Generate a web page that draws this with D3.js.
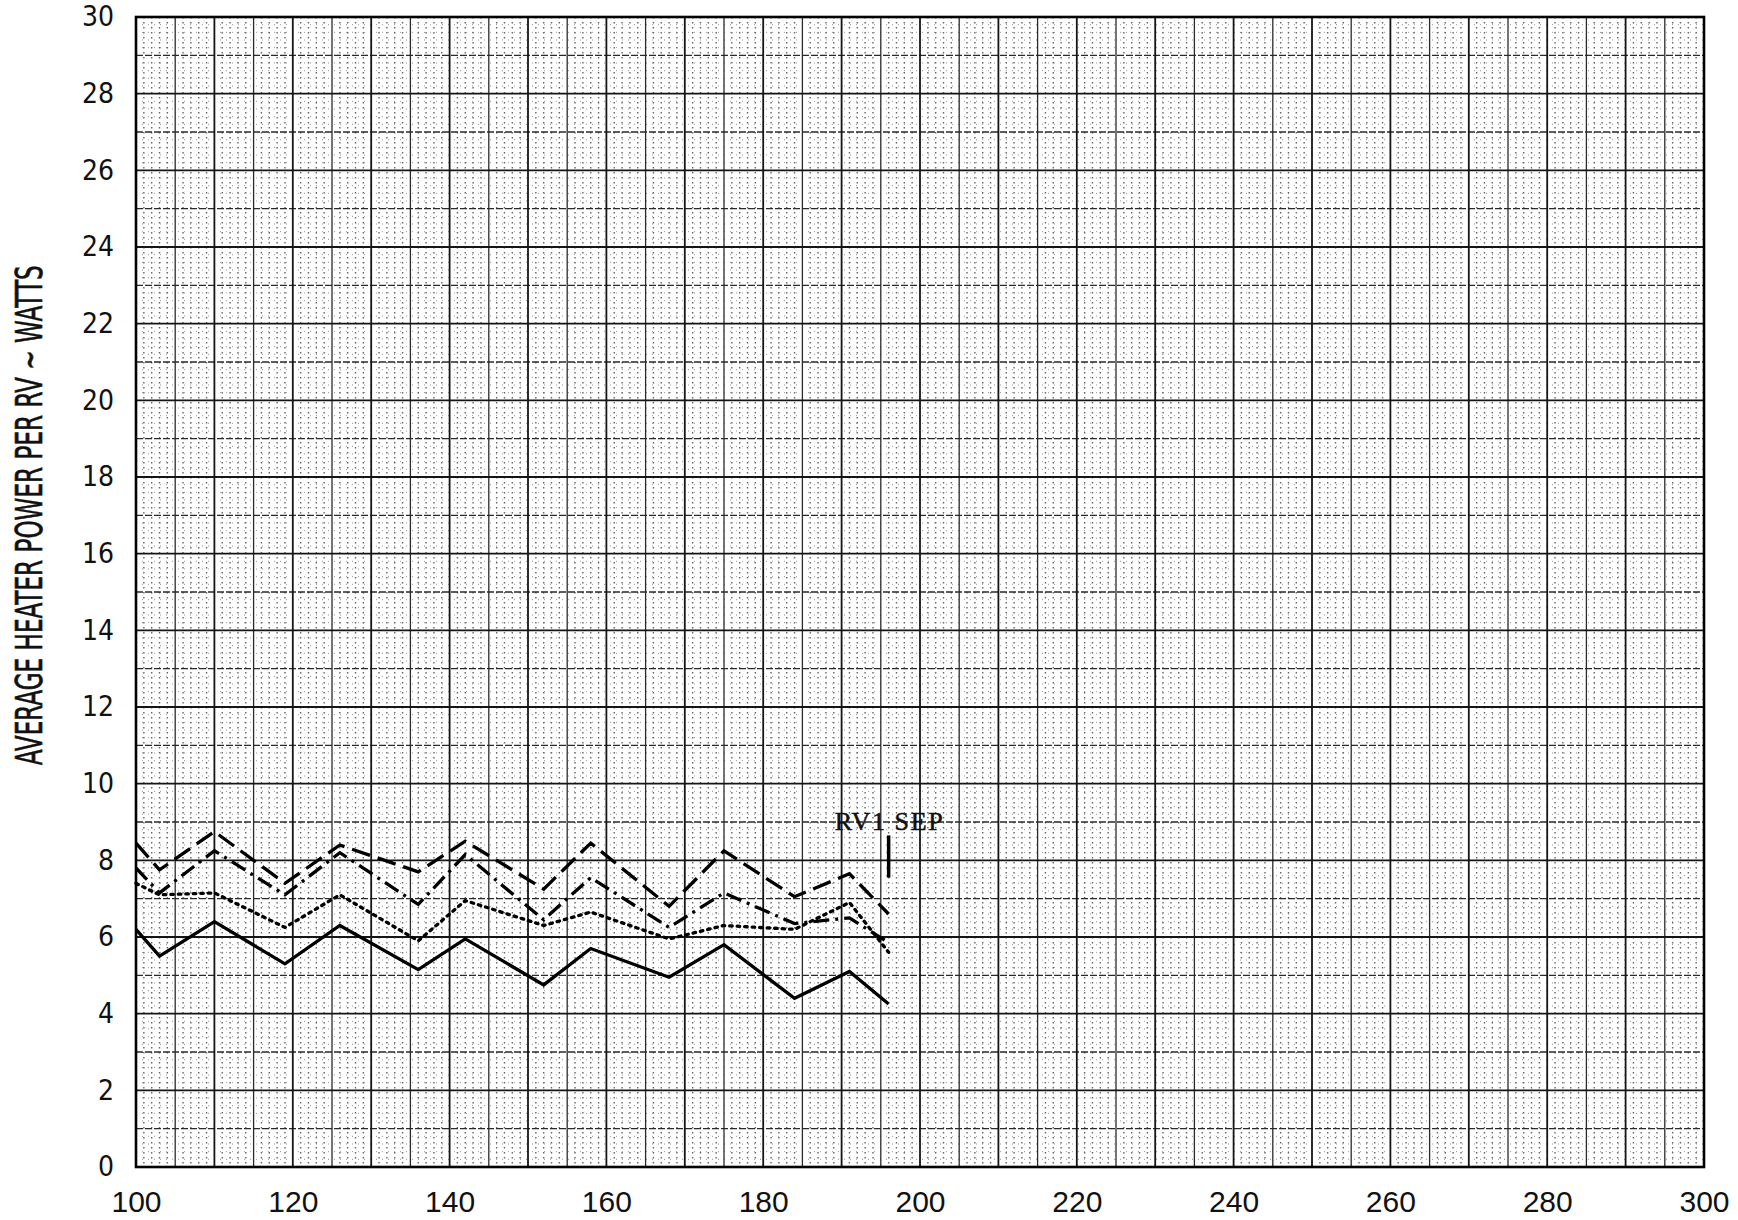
<!DOCTYPE html>
<html>
<head>
<meta charset="utf-8">
<script src="https://cdn.jsdelivr.net/npm/d3@7"></script>
<style>
  body { margin: 0; background: #fff; }
</style>
</head>
<body>
<svg id="chart"></svg>
<script>
// hours on the x axis, watts on the y axis
var hours    = [100, 103, 110, 119, 126, 136, 142, 152, 158, 168, 175, 184, 191, 196];
var solidW   = [6.2, 5.5, 6.4, 5.3, 6.3, 5.15, 5.95, 4.75, 5.7, 4.95, 5.8, 4.4, 5.1, 4.25];
var dottedW  = [7.4, 7.1, 7.15, 6.25, 7.1, 5.9, 6.95, 6.3, 6.65, 5.95, 6.3, 6.2, 6.9, 5.6];
var dashDotW = [7.8, 7.15, 8.25, 7.1, 8.2, 6.85, 8.15, 6.45, 7.55, 6.25, 7.15, 6.35, 6.5, 5.85];
var dashedW  = [8.45, 7.75, 8.75, 7.4, 8.4, 7.7, 8.5, 7.25, 8.45, 6.8, 8.25, 7.05, 7.65, 6.6];

var xTicks = [100, 120, 140, 160, 180, 200, 220, 240, 260, 280, 300];
var yTicks = [0, 2, 4, 6, 8, 10, 12, 14, 16, 18, 20, 22, 24, 26, 28, 30];

// separation marker
var sepLabel = "RV1 SEP";
var sepHour = 196;
var sepRange = [7.55, 8.65];
var sepLabelY = 8.78;

var yTitle = "AVERAGE HEATER POWER PER RV ~ WATTS";

function main()
{
    var W = 1738, H = 1220;
    var margin = { top: 17, left: 136, right: 34, bottom: 53 };
    var width = W - margin.left - margin.right,
        height = H - margin.top - margin.bottom;

    var svg = d3.select("#chart")
        .attr("width", W)
        .attr("height", H);

    svg.append("rect").attr("width", W).attr("height", H).attr("fill", "#fff");

    var g = svg.append("g")
        .attr("transform", "translate(" + margin.left + "," + margin.top + ")");

    var x = d3.scaleLinear().domain([100, 300]).range([0, width]);
    var y = d3.scaleLinear().domain([0, 30]).range([height, 0]);

    // graph paper: minor dots, medium and heavy rules
    var xs = d3.range(100, 301, 1);
    var ys = d3.range(0, 151, 1).map(function(d) { return d / 5; });

    var grid = g.append("g").attr("class", "grid");

    grid.selectAll("line.minorx")
        .data(xs.filter(function(d) { return d % 5 != 0; }))
        .enter().append("line")
        .attr("x1", function(d) { return x(d); })
        .attr("x2", function(d) { return x(d); })
        .attr("y1", 0).attr("y2", height)
        .attr("stroke", "#333")
        .attr("stroke-width", 1.4)
        .attr("stroke-dasharray", "1.5,3.5")
        .attr("opacity", 0.75);

    grid.selectAll("line.minory")
        .data(ys.filter(function(d, i) { return i % 5 != 0; }))
        .enter().append("line")
        .attr("x1", 0).attr("x2", width)
        .attr("y1", function(d) { return y(d); })
        .attr("y2", function(d) { return y(d); })
        .attr("stroke", "#555")
        .attr("stroke-width", 1)
        .attr("stroke-dasharray", "1,5")
        .attr("opacity", 0.6);

    grid.selectAll("line.midx")
        .data(xs.filter(function(d) { return d % 5 == 0 && d % 10 != 0; }))
        .enter().append("line")
        .attr("x1", function(d) { return x(d); })
        .attr("x2", function(d) { return x(d); })
        .attr("y1", 0).attr("y2", height)
        .attr("stroke", "#2a2a2a")
        .attr("stroke-width", 1.3);

    grid.selectAll("line.midy")
        .data(d3.range(1, 30, 2))
        .enter().append("line")
        .attr("x1", 0).attr("x2", width)
        .attr("y1", function(d) { return y(d); })
        .attr("y2", function(d) { return y(d); })
        .attr("stroke", "#2a2a2a")
        .attr("stroke-width", 1.3)
        .attr("stroke-dasharray", "7,2");

    grid.selectAll("line.majx")
        .data(xs.filter(function(d) { return d % 10 == 0; }))
        .enter().append("line")
        .attr("x1", function(d) { return x(d); })
        .attr("x2", function(d) { return x(d); })
        .attr("y1", 0).attr("y2", height)
        .attr("stroke", "#151515")
        .attr("stroke-width", 1.8);

    grid.selectAll("line.majy")
        .data(d3.range(0, 31, 2))
        .enter().append("line")
        .attr("x1", 0).attr("x2", width)
        .attr("y1", function(d) { return y(d); })
        .attr("y2", function(d) { return y(d); })
        .attr("stroke", "#151515")
        .attr("stroke-width", 1.8);

    g.append("rect")
        .attr("x", 0).attr("y", 0)
        .attr("width", width).attr("height", height)
        .attr("fill", "none")
        .attr("stroke", "#000")
        .attr("stroke-width", 2.6);

    // axes (labels only)
    var xAxis = g.append("g")
        .attr("transform", "translate(0," + height + ")")
        .call(d3.axisBottom(x).tickValues(xTicks).tickSize(0).tickPadding(24).tickFormat(d3.format("d")));
    xAxis.select(".domain").remove();
    xAxis.selectAll("text")
        .attr("font-family", "'Liberation Sans', Arial, sans-serif")
        .attr("font-size", 30)
        .attr("fill", "#111");

    var yAxis = g.append("g")
        .call(d3.axisLeft(y).tickValues(yTicks).tickSize(0).tickPadding(22).tickFormat(d3.format("d")));
    yAxis.select(".domain").remove();
    yAxis.selectAll("text")
        .attr("font-family", "'Liberation Sans Narrow', 'DejaVu Sans Condensed', sans-serif")
        .attr("font-size", 28)
        .attr("fill", "#111");

    svg.append("text")
        .attr("transform", "translate(42," + (margin.top + y(17)) + ") rotate(-90)")
        .attr("text-anchor", "middle")
        .attr("font-family", "'Liberation Sans Narrow', 'DejaVu Sans Condensed', sans-serif")
        .attr("font-size", 37)
        .attr("textLength", 500)
        .attr("lengthAdjust", "spacingAndGlyphs")
        .attr("fill", "#111")
        .attr("stroke", "#111")
        .attr("stroke-width", 0.6)
        .text(yTitle);

    // the four traces
    var series = [
        { values: solidW,   dash: null, cap: "butt" },
        { values: dottedW,  dash: "2.5,5", cap: "round" },
        { values: dashDotW, dash: "16,6,3,6", cap: "butt" },
        { values: dashedW,  dash: "19,8", cap: "butt" }
    ];

    var line = d3.line()
        .x(function(d) { return x(d[0]); })
        .y(function(d) { return y(d[1]); });

    series.forEach(function(s) {
        var pts = hours.map(function(h, i) { return [h, s.values[i]]; });
        g.append("path")
            .datum(pts)
            .attr("d", line)
            .attr("fill", "none")
            .attr("stroke", "#000")
            .attr("stroke-width", 3.3)
            .attr("stroke-linejoin", "miter")
            .attr("stroke-linecap", s.cap)
            .attr("stroke-dasharray", s.dash);
    });

    // RV1 separation marker
    g.append("line")
        .attr("x1", x(sepHour)).attr("x2", x(sepHour))
        .attr("y1", y(sepRange[0])).attr("y2", y(sepRange[1]))
        .attr("stroke", "#000")
        .attr("stroke-width", 3.5);

    g.append("text")
        .attr("x", x(sepHour))
        .attr("y", y(sepLabelY))
        .attr("text-anchor", "middle")
        .attr("font-family", "'Liberation Serif', 'DejaVu Serif', serif")
        .attr("font-size", 26)
        .attr("textLength", 108)
        .attr("lengthAdjust", "spacing")
        .attr("fill", "#111")
        .attr("stroke", "#111")
        .attr("stroke-width", 0.5)
        .text(sepLabel);
}

main();
</script>
</body>
</html>
